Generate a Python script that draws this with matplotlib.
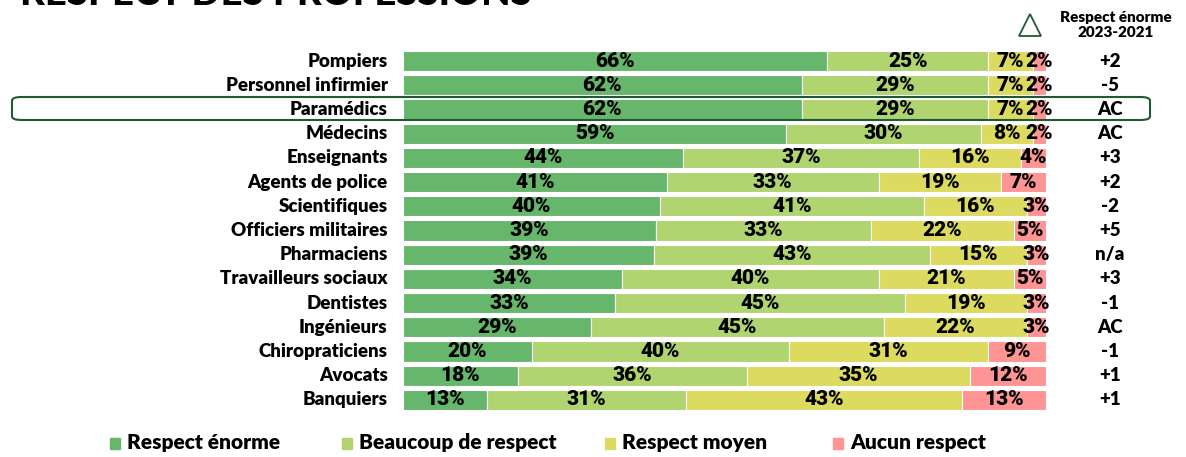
import numpy as np
import matplotlib
matplotlib.use("Agg")
import matplotlib.pyplot as plt
from matplotlib.patches import FancyBboxPatch, Rectangle

professions = ["Pompiers", "Personnel infirmier", "Paramédics", "Médecins", "Enseignants",
               "Agents de police", "Scientifiques", "Officiers militaires", "Pharmaciens",
               "Travailleurs sociaux", "Dentistes", "Ingénieurs", "Chiropraticiens",
               "Avocats", "Banquiers"]
enorme = [66, 62, 62, 59, 44, 41, 40, 39, 39, 34, 33, 29, 20, 18, 13]
beaucoup = [25, 29, 29, 30, 37, 33, 41, 33, 43, 40, 45, 45, 40, 36, 31]
moyen = [7, 7, 7, 8, 16, 19, 16, 22, 15, 21, 19, 22, 31, 35, 43]
aucun = [2, 2, 2, 2, 4, 7, 3, 5, 3, 5, 3, 3, 9, 12, 13]
delta = ["+2", "-5", "AC", "AC", "+3", "+2", "-2", "+5", "n/a", "+3", "-1", "AC", "-1", "+1", "+1"]
series_names = ["Respect énorme", "Beaucoup de respect", "Respect moyen", "Aucun respect"]
colors = ["#66b66b", "#b0d46f", "#dcdb5f", "#ff9494"]

W, H = 1186, 457
fig = plt.figure(figsize=(W / 100, H / 100), dpi=100)
ax = fig.add_axes([403 / W, 1 - 412 / H, 643 / W, 363 / H])

data = np.array([enorme, beaucoup, moyen, aucun], dtype=float)
shares = data / data.sum(axis=0) * 100
y = np.arange(len(professions))
left = np.zeros(len(professions))
lab_font = dict(family=["Roboto", "DejaVu Sans"], fontweight="black", fontsize=15)
for k in range(4):
    ax.barh(y, shares[k], left=left, height=0.84, color=colors[k], edgecolor="white", linewidth=0.8)
    for i in range(len(professions)):
        ax.text(left[i] + shares[k][i] / 2, y[i], f"{int(data[k][i])}%", ha="center", va="center",
                color="black", **lab_font)
    left += shares[k]

ax.set_xlim(0, 100)
ax.set_ylim(len(professions) - 0.5, -0.5)
ax.axis("off")

name_font = dict(family=["Lato", "DejaVu Sans"], fontweight="heavy", fontsize=13.5)
for i, name in enumerate(professions):
    ax.annotate(name, (0, y[i]), xytext=(-11, 0), textcoords="offset points",
                ha="right", va="center", **name_font)
    ax.annotate(delta[i], (100, y[i]), xytext=(46, 0), textcoords="offset points",
                ha="center", va="center", **name_font)

# highlight around Paramédics
fig.patches.append(FancyBboxPatch((12 / W, 1 - 120 / H), 1138 / W, 23 / H,
                                  boxstyle="round,pad=0,rounding_size=0.008",
                                  transform=fig.transFigure, fill=False,
                                  edgecolor="#1f5a33", linewidth=1.5, zorder=5))

# title (cut at top)
fig.text(20 / W, 1 - 5 / H, "RESPECT DES PROFESSIONS", ha="left", va="baseline",
         family=["Lato", "DejaVu Sans"], fontweight="black", fontsize=27.5)

# right header
fig.text(1116 / W, 1 - 25 / H, "Respect énorme\n2023-2021", ha="center", va="center",
         family=["Lato", "DejaVu Sans"], fontweight="heavy", fontsize=11, linespacing=1.25)
fig.add_artist(plt.Line2D([1030 / W], [1 - 25 / H], marker="^", markersize=16,
                          markerfacecolor="none", markeredgecolor="#1f5a33",
                          markeredgewidth=1.3, transform=fig.transFigure))

# legend
leg_x = [110, 342, 605, 833]
for xpos, name, c in zip(leg_x, series_names, colors):
    fig.patches.append(Rectangle((xpos / W, 1 - 449 / H), 10 / W, 11 / H,
                                 transform=fig.transFigure, color=c))
    fig.text((xpos + 17) / W, 1 - 443 / H, name, ha="left", va="center",
             family=["Lato", "DejaVu Sans"], fontweight="heavy", fontsize=15)

fig.savefig("out.png", dpi=100)
